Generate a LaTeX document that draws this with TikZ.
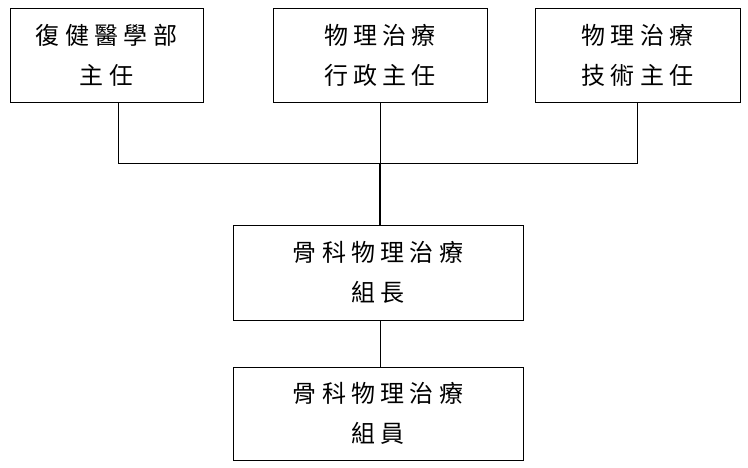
\documentclass[tikz,border=0pt]{standalone}
\usepackage{fontspec}
\newfontfamily\cjk[LetterSpace=22]{Noto Sans CJK TC}
\begin{document}
\begin{tikzpicture}[x=1pt,y=-1pt,
  box/.style={draw,line width=0.8pt,inner sep=0pt,align=center,font=\cjk\fontsize{24}{40}\selectfont},
  ln/.style={line width=0.8pt}]
\useasboundingbox (0,0) rectangle (748,468);
\node[box,minimum width=193pt,minimum height=94pt] (a) at (106.5,55) {復健醫學部\\主任};
\node[box,minimum width=214pt,minimum height=94pt] (b) at (380,55) {物理治療\\行政主任};
\node[box,minimum width=205pt,minimum height=94pt] (c) at (637.5,55) {物理治療\\技術主任};
\node[box,minimum width=290pt,minimum height=95pt] (d) at (378,272.5) {骨科物理治療\\組長};
\node[box,minimum width=290pt,minimum height=93pt] (e) at (378,413.5) {骨科物理治療\\組員};
\coordinate (j) at (380,163);
\draw[ln] (a.south -| 118,0) |- (j);
\draw[ln] (c.south) |- (j);
\draw[ln] (b.south) -- (j);
\draw[line width=2pt] (j) -- (d.north -| j);
\draw[ln] (d.south -| 380,0) -- (e.north -| 380,0);
\end{tikzpicture}
\end{document}
